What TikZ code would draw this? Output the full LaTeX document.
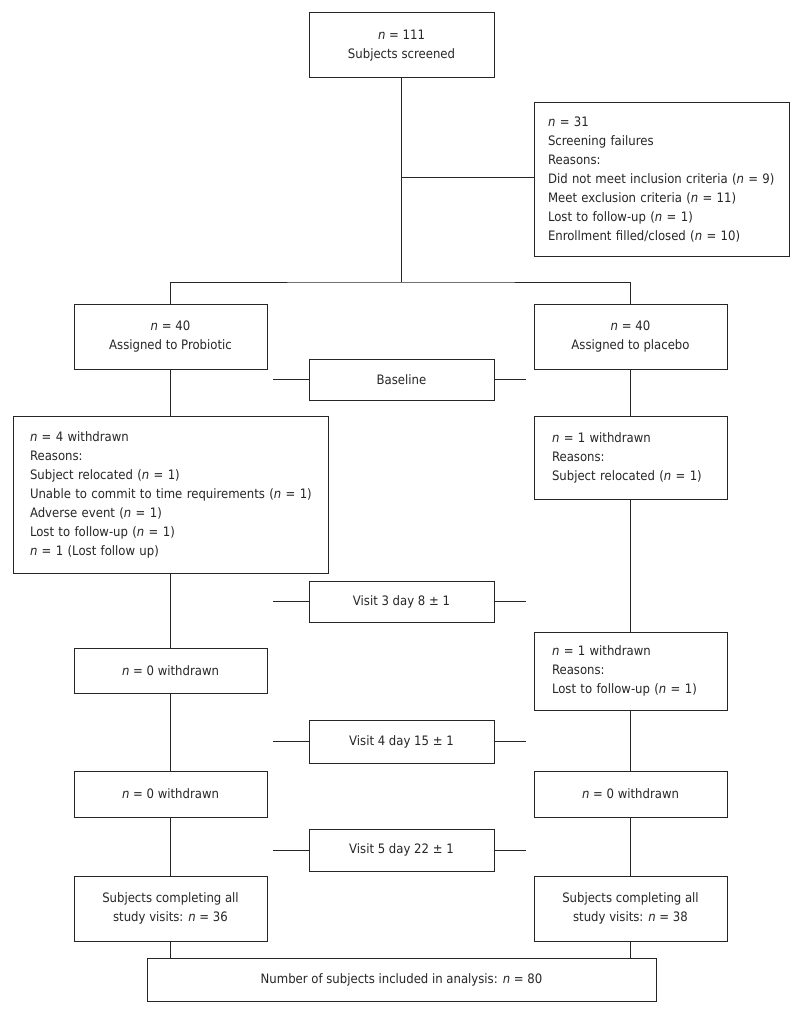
\documentclass[tikz,border=0pt]{standalone}
\usepackage{fontspec}
\setmainfont{DejaVu Sans Condensed}
\begin{document}
\begin{tikzpicture}[x=1pt,y=-1pt,
  every node/.style={font=\fontsize{13}{19}\selectfont, text=black!85},
  box/.style={draw=black!85, line width=1pt, inner sep=0pt, align=center},
  lbox/.style={draw=black!85, line width=1pt, inner ysep=0pt, align=left},
  conn/.style={draw=black!85, line width=1pt}]
\useasboundingbox (0,0) rectangle (800,1014);
\newcommand{\nn}{\textit{n}}
% boxes
\node[box, minimum width=185, minimum height=65] (top) at (401.5,45.5) {\nn{} = 111\\Subjects screened};
\node[lbox, text width=227, inner xsep=14, minimum height=153] (screen) at (661.5,179.5)
  {\nn{} = 31\\Screening failures\\Reasons:\\\makebox[\linewidth][l]{Did not meet inclusion criteria (\nn{} = 9)}\\Meet exclusion criteria (\nn{} = 11)\\Lost to follow-up (\nn{} = 1)\\Enrollment filled/closed (\nn{} = 10)};
\node[box, minimum width=193, minimum height=65] (prob) at (170.5,336.5) {\nn{} = 40\\Assigned to Probiotic};
\node[box, minimum width=193, minimum height=65] (plac) at (630.5,336.5) {\nn{} = 40\\Assigned to placebo};
\node[box, minimum width=185, minimum height=41] (base) at (401.5,379.5) {Baseline};
\node[lbox, text width=281, inner xsep=17, minimum height=157] (pw1) at (170.5,494.5)
  {\nn{} = 4 withdrawn\\Reasons:\\Subject relocated (\nn{} = 1)\\\makebox[\linewidth][l]{Unable to commit to time requirements (\nn{} = 1)}\\Adverse event (\nn{} = 1)\\Lost to follow-up (\nn{} = 1)\\\nn{} = 1 (Lost follow up)};
\node[lbox, text width=157, inner xsep=18, minimum height=83] (cw1) at (630.5,457.5)
  {\nn{} = 1 withdrawn\\Reasons:\\Subject relocated (\nn{} = 1)};
\node[box, minimum width=185, minimum height=41] (v3) at (401.5,601.5) {Visit 3 day 8 ± 1};
\node[box, minimum width=193, minimum height=45] (pw2) at (170.5,670.5) {\nn{} = 0 withdrawn};
\node[lbox, text width=157, inner xsep=18, minimum height=78] (cw2) at (630.5,671)
  {\nn{} = 1 withdrawn\\Reasons:\\Lost to follow-up (\nn{} = 1)};
\node[box, minimum width=185, minimum height=43] (v4) at (401.5,741.5) {Visit 4 day 15 ± 1};
\node[box, minimum width=193, minimum height=46] (pw3) at (170.5,794) {\nn{} = 0 withdrawn};
\node[box, minimum width=193, minimum height=46] (cw3) at (630.5,794) {\nn{} = 0 withdrawn};
\node[box, minimum width=185, minimum height=42] (v5) at (401.5,850) {Visit 5 day 22 ± 1};
\node[box, minimum width=193, minimum height=65] (pc) at (170.5,908.5) {Subjects completing all\\study visits: \nn{} = 36};
\node[box, minimum width=193, minimum height=65] (cc) at (630.5,908.5) {Subjects completing all\\study visits: \nn{} = 38};
\node[box, minimum width=509, minimum height=43] (fin) at (401.5,979.5) {Number of subjects included in analysis: \nn{} = 80};
% connectors
\coordinate (j) at (401.5,282);
\coordinate (b) at (401.5,177);
\draw[conn] (top.south) -- (j);
\draw[conn] (b) -- (b -| screen.west);
\draw[conn] (prob.north) |- (j) -| (plac.north);
\draw[conn] (prob) -- (pw1);
\draw[conn] (pw1) -- (pw2);
\draw[conn] (pw2) -- (pw3);
\draw[conn] (pw3) -- (pc);
\draw[conn] (pc.south) -- (pc.south |- fin.north);
\draw[conn] (plac) -- (cw1);
\draw[conn] (cw1) -- (cw2);
\draw[conn] (cw2) -- (cw3);
\draw[conn] (cw3) -- (cc);
\draw[conn] (cc.south) -- (cc.south |- fin.north);
\foreach \v in {base,v3,v4,v5}{
  \draw[conn] (\v.west) -- ++(-36,0);
  \draw[conn] (\v.east) -- ++(31,0);
}
\end{tikzpicture}
\end{document}
